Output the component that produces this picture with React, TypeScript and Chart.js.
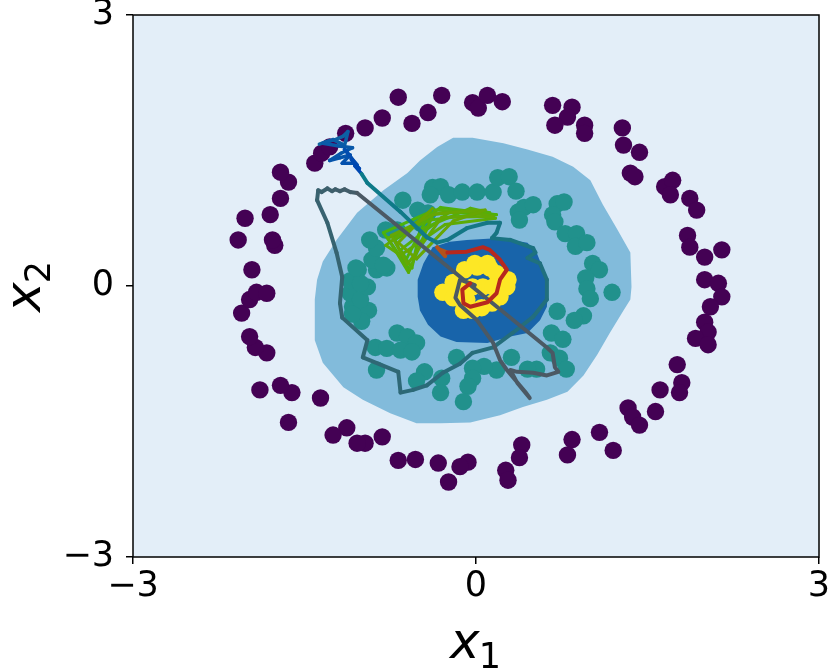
import React, { useEffect, useRef } from 'react';
import { Chart, registerables } from 'chart.js';

Chart.register(...registerables);

// ---- data ----
const axisTicks = [-3, 0, 3];
const xTitle = { main: 'x', sub: '1' };
const yTitle = { main: 'x', sub: '2' };

const outerRing: [number, number][] = [
  [-0.68, 2.09], [-0.30, 2.11], [-0.03, 2.03], [0.02, 1.97], [0.10, 2.11], [0.23, 2.04],
  [0.67, 2.00], [0.84, 1.98], [0.80, 1.87], [0.69, 1.78], [0.95, 1.78], [0.95, 1.69],
  [1.28, 1.75], [1.29, 1.56], [1.43, 1.48], [1.35, 1.25], [1.39, 1.21], [1.65, 1.10],
  [1.72, 1.17], [1.70, 1.01], [1.87, 0.97], [1.93, 0.84], [1.85, 0.56], [1.87, 0.43],
  [2.00, 0.32], [2.15, 0.40], [2.00, 0.07], [2.12, 0.03], [2.15, -0.12], [2.05, -0.23],
  [2.00, -0.40], [2.03, -0.51], [1.92, -0.58], [2.03, -0.65], [1.76, -0.87], [1.80, -1.07],
  [1.78, -1.18], [1.61, -1.15], [1.33, -1.35], [1.37, -1.45], [1.43, -1.54], [1.57, -1.39],
  [1.08, -1.62], [1.20, -1.82], [0.84, -1.70], [0.80, -1.87], [0.40, -1.76], [0.38, -1.90],
  [0.26, -2.04], [0.28, -2.15], [-0.07, -1.95], [-0.14, -2.00], [-0.24, -2.17], [-0.33, -1.96],
  [-0.53, -1.92], [-0.68, -1.93], [-0.82, -1.67], [-0.97, -1.74], [-1.04, -1.74], [-1.13, -1.57],
  [-1.25, -1.65], [-1.64, -1.51], [-1.36, -1.24], [-1.61, -1.18], [-1.71, -1.10], [-1.89, -1.15],
  [-1.83, -0.74], [-1.93, -0.68], [-1.98, -0.56], [-2.05, -0.30], [-1.98, -0.15], [-1.92, -0.07],
  [-1.83, -0.08], [-1.96, 0.18], [-1.76, 0.45], [-1.78, 0.51], [-2.08, 0.51], [-2.02, 0.75],
  [-1.80, 0.79], [-1.71, 0.97], [-1.64, 1.15], [-1.71, 1.26], [-1.41, 1.36], [-1.35, 1.47],
  [-1.28, 1.54], [-1.14, 1.69], [-0.97, 1.75], [-0.82, 1.86], [-0.56, 1.80], [-0.42, 1.92],
];

const middleRing: [number, number][] = [
  [-0.64, 0.95], [-0.38, 1.09], [-0.31, 1.10], [-0.40, 1.01], [-0.24, 1.01], [-0.12, 1.04],
  [0.01, 1.04], [0.15, 1.04], [0.19, 1.20], [0.29, 1.21], [0.35, 1.05], [0.37, 0.82],
  [0.42, 0.87], [0.50, 0.90], [0.38, 0.73], [0.71, 0.91], [0.77, 0.93], [0.67, 0.79],
  [0.69, 0.71], [0.78, 0.58], [0.88, 0.58], [0.87, 0.44], [0.97, 0.48], [1.02, 0.25],
  [1.08, 0.18], [0.96, 0.09], [0.97, -0.03], [1.00, -0.14], [1.19, -0.07], [0.94, -0.33],
  [0.86, -0.38], [0.71, -0.28], [0.66, -0.52], [0.76, -0.59], [0.65, -0.74], [0.73, -0.80],
  [0.79, -0.92], [0.53, -0.92], [0.45, -0.92], [0.31, -0.79], [0.18, -0.93], [0.07, -0.89],
  [-0.03, -0.91], [-0.03, -1.02], [-0.07, -1.11], [-0.11, -1.28], [-0.17, -0.79], [-0.30, -1.02],
  [-0.31, -1.18], [-0.45, -0.95], [-0.52, -1.05], [-0.69, -0.52], [-0.60, -0.56], [-0.52, -0.63],
  [-0.88, -0.68], [-0.78, -0.69], [-0.66, -0.71], [-0.56, -0.73], [-0.87, -0.93], [-1.08, -0.23],
  [-0.94, -0.27], [-1.00, -0.39], [-1.08, -0.31], [-1.10, -0.08], [-1.01, -0.15], [-0.95, -0.01],
  [-1.03, 0.18], [-1.10, 0.06], [-1.01, 0.03], [-0.87, 0.18], [-0.78, 0.20], [-0.91, 0.29],
  [-0.81, 0.23], [-0.87, 0.42], [-0.93, 0.51], [-0.79, 0.62], [-0.69, 0.62], [-0.51, 0.84],
  [-0.42, 0.81], [-0.49, 0.70], [-1.05, 0.20],
];

const innerCore: [number, number][] = [
  [0.01, 0.21], [0.12, 0.20], [-0.10, 0.18], [-0.20, 0.04], [-0.29, -0.07], [-0.20, -0.13],
  [-0.08, -0.15], [-0.03, -0.27], [0.05, -0.24], [0.14, -0.19], [0.21, -0.12], [0.27, -0.01],
  [0.28, 0.07], [0.18, 0.14], [0.06, -0.01], [-0.03, -0.01], [-0.14, -0.04], [0.15, -0.01],
  [-0.11, -0.27], [-0.01, 0.25], [0.10, 0.25],
];

// decision-region contours (filled levels)
const contourMid: [number, number][] = [
  [-0.20, 1.64], [-0.03, 1.64], [0.24, 1.58], [0.45, 1.51], [0.67, 1.43], [0.85, 1.32],
  [1.00, 1.17], [1.11, 0.90], [1.23, 0.64], [1.35, 0.37], [1.36, -0.01], [1.35, -0.15],
  [1.29, -0.27], [1.17, -0.52], [1.06, -0.76], [0.94, -0.99], [0.80, -1.17], [0.62, -1.26],
  [0.41, -1.34], [0.21, -1.43], [-0.05, -1.51], [-0.31, -1.52], [-0.52, -1.52], [-0.75, -1.41],
  [-0.99, -1.26], [-1.16, -1.12], [-1.34, -0.85], [-1.41, -0.60], [-1.41, -0.15], [-1.39, 0.07],
  [-1.34, 0.27], [-1.22, 0.51], [-1.04, 0.81], [-0.81, 1.06], [-0.60, 1.25], [-0.49, 1.39],
  [-0.34, 1.54],
];

const contourInner: [number, number][] = [
  [-0.38, 0.43], [-0.23, 0.49], [-0.08, 0.51], [0.21, 0.53], [0.45, 0.48], [0.53, 0.37],
  [0.59, 0.18], [0.63, -0.01], [0.62, -0.23], [0.56, -0.38], [0.45, -0.52], [0.30, -0.56],
  [0.10, -0.63], [-0.17, -0.62], [-0.31, -0.56], [-0.42, -0.43], [-0.49, -0.27], [-0.51, -0.12],
  [-0.51, 0.07], [-0.46, 0.25],
];

// trajectories
const pathBlue: [number, number][] = [
  [-1.37, 1.57], [-1.30, 1.60], [-1.23, 1.62], [-1.16, 1.66], [-1.12, 1.71], [-1.14, 1.60],
  [-1.15, 1.56], [-1.25, 1.62], [-1.34, 1.58], [-1.20, 1.55], [-1.08, 1.53], [-1.18, 1.47],
  [-1.28, 1.39], [-1.19, 1.42], [-1.10, 1.45], [-1.17, 1.36], [-1.06, 1.36], [-1.13, 1.49],
  [-1.15, 1.51], [-1.04, 1.34], [-1.09, 1.40], [-1.02, 1.30], [-1.06, 1.33], [-1.00, 1.24],
];

const pathTeal: [number, number][] = [
  [-1.00, 1.24], [-0.95, 1.14], [-0.66, 0.82], [-0.43, 0.54], [-0.34, 0.48], [-0.25, 0.51],
  [-0.08, 0.64], [0.10, 0.70], [0.21, 0.70], [0.18, 0.59], [0.14, 0.53], [0.30, 0.51],
  [0.50, 0.42], [0.52, 0.37], [0.45, 0.31], [0.56, 0.25], [0.62, 0.07], [0.62, -0.15],
  [0.50, -0.34], [0.32, -0.52], [0.15, -0.68], [-0.03, -0.74], [-0.14, -0.86], [-0.29, -0.96],
  [-0.43, -1.10], [-0.55, -1.15], [-0.66, -1.18], [-0.68, -0.95], [-0.99, -0.79], [-0.95, -0.60],
  [-1.17, -0.35], [-1.19, -0.19], [-1.17, 0.10], [-1.22, 0.37], [-1.30, 0.70], [-1.39, 0.95],
  [-1.38, 1.06], [-1.35, 1.04], [-1.30, 1.08], [-1.26, 1.05], [-1.23, 1.07], [-1.19, 1.05],
  [-1.15, 1.07], [-1.10, 1.04], [-1.04, 1.03],
];

const pathGray: [number, number][] = [
  [-1.04, 1.03], [-0.66, 0.64], [0.62, -0.68], [0.67, -0.74], [0.69, -0.90], [0.72, -0.95],
  [0.62, -0.99], [0.50, -0.96], [0.36, -0.95], [0.30, -0.93], [0.36, -1.07], [0.47, -1.24],
  [0.43, -1.17], [0.27, -0.93], [0.21, -0.82], [0.15, -0.63], [0.01, -0.38], [-0.14, -0.21],
  [-0.18, -0.13], [-0.14, 0.07], [-0.01, 0.01],
];

const pathGreen: [number, number][] = [
  [-0.58, 0.18], [-0.81, 0.59], [-0.40, 0.82], [-0.62, 0.27], [-0.71, 0.51], [-0.31, 0.87],
  [0.18, 0.79], [-0.23, 0.82], [-0.66, 0.40], [-0.56, 0.20], [-0.49, 0.62], [-0.05, 0.86],
  [0.12, 0.81], [-0.40, 0.73], [-0.77, 0.53], [-0.59, 0.15], [-0.36, 0.84], [0.03, 0.81],
  [0.17, 0.75], [-0.27, 0.68], [-0.66, 0.34], [-0.79, 0.45], [-0.44, 0.78], [-0.10, 0.83],
  [0.15, 0.77], [-0.30, 0.76], [-0.60, 0.24], [-0.74, 0.56], [-0.35, 0.80], [0.08, 0.84],
  [-0.20, 0.72], [-0.52, 0.30], [-0.68, 0.48], [-0.38, 0.86],
];

const pathOrange: [number, number][] = [
  [-0.34, 0.43], [-0.27, 0.33], [-0.31, 0.40], [-0.25, 0.37],
];

const pathRed: [number, number][] = [
  [-0.25, 0.37], [-0.08, 0.38], [0.06, 0.43], [0.12, 0.40], [0.21, 0.29], [0.27, 0.18],
  [0.21, 0.07], [0.18, -0.08], [0.10, -0.18], [-0.05, -0.23], [-0.11, -0.19], [-0.12, -0.04],
  [-0.05, 0.03],
];

// ---- styles ----
const FONT = '"DejaVu Sans", sans-serif';
const C_BG = '#e3eef8';
const C_MID = '#82bbdb';
const C_INNER = '#1864aa';
const TICK_SIZE = 35;
const TITLE_SIZE = 50;
const SUB_SIZE = 35;

const toXY = (arr: [number, number][]) => arr.map(([x, y]) => ({ x, y }));

function hexToRgb(h: string) {
  const n = parseInt(h.slice(1), 16);
  return [(n >> 16) & 255, (n >> 8) & 255, n & 255];
}
function mix(a: string, b: string, t: number) {
  const A = hexToRgb(a), B = hexToRgb(b);
  const c = A.map((v, i) => Math.round(v + (B[i] - v) * Math.min(1, Math.max(0, t))));
  return `rgb(${c[0]},${c[1]},${c[2]})`;
}
function gradSegment(a: string, b: string, n: number) {
  return { borderColor: (ctx: any) => mix(a, b, ctx.p0DataIndex / Math.max(1, n - 2)) };
}

function drawSubLabel(ctx: CanvasRenderingContext2D, main: string, sub: string, x: number, y: number, rotate: boolean) {
  ctx.save();
  ctx.translate(x, y);
  if (rotate) ctx.rotate(-Math.PI / 2);
  ctx.fillStyle = '#000';
  ctx.textBaseline = 'alphabetic';
  ctx.textAlign = 'left';
  ctx.font = `italic ${TITLE_SIZE}px ${FONT}`;
  const w1 = ctx.measureText(main).width;
  ctx.font = `${SUB_SIZE}px ${FONT}`;
  const w2 = ctx.measureText(sub).width;
  const x0 = -(w1 + w2) / 2;
  ctx.font = `italic ${TITLE_SIZE}px ${FONT}`;
  ctx.fillText(main, x0, 0);
  ctx.font = `${SUB_SIZE}px ${FONT}`;
  ctx.fillText(sub, x0 + w1 - 1, TITLE_SIZE * 0.2);
  ctx.restore();
}

const contourPlugin = {
  id: 'contourBg',
  beforeDatasetsDraw(chart: any) {
    const { ctx, chartArea: a, scales } = chart;
    const sx = scales.x, sy = scales.y;
    ctx.save();
    ctx.beginPath();
    ctx.rect(a.left, a.top, a.right - a.left, a.bottom - a.top);
    ctx.clip();
    ctx.fillStyle = C_BG;
    ctx.fillRect(a.left, a.top, a.right - a.left, a.bottom - a.top);
    const poly = (pts: [number, number][], color: string) => {
      ctx.beginPath();
      pts.forEach(([vx, vy], i) => {
        const px = sx.getPixelForValue(vx), py = sy.getPixelForValue(vy);
        if (i === 0) ctx.moveTo(px, py); else ctx.lineTo(px, py);
      });
      ctx.closePath();
      ctx.fillStyle = color;
      ctx.fill();
    };
    poly(contourMid, C_MID);
    poly(contourInner, C_INNER);
    ctx.restore();
  },
  afterDatasetsDraw(chart: any) {
    const { ctx, chartArea: a } = chart;
    ctx.save();
    ctx.strokeStyle = '#000';
    ctx.lineWidth = 1.5;
    ctx.strokeRect(a.left, a.top, a.right - a.left, a.bottom - a.top);
    ctx.restore();
  },
  afterDraw(chart: any) {
    const { ctx, chartArea: a } = chart;
    drawSubLabel(ctx, xTitle.main, xTitle.sub, (a.left + a.right) / 2, 658, false);
    drawSubLabel(ctx, yTitle.main, yTitle.sub, 40, (a.top + a.bottom) / 2, true);
  },
};

const tickFmt = (v: any) => {
  const n = Number(v);
  return n < 0 ? '\u2212' + Math.abs(n) : String(n);
};

export default function App() {
  const ref = useRef<HTMLCanvasElement | null>(null);

  useEffect(() => {
    if (!ref.current) return;
    const lineDs = (label: string, data: [number, number][], color: string, width: number, segment?: any) => ({
      type: 'scatter' as const,
      label,
      data: toXY(data),
      showLine: true,
      borderColor: color,
      borderWidth: width,
      borderJoinStyle: 'round',
      borderCapStyle: 'round',
      pointRadius: 0,
      tension: 0,
      order: 1,
      segment,
    });
    const ptDs = (label: string, data: [number, number][], color: string) => ({
      type: 'scatter' as const,
      label,
      data: toXY(data),
      backgroundColor: color,
      borderColor: color,
      borderWidth: 0,
      pointRadius: 8.7,
      order: 2,
    });

    const chart = new Chart(ref.current, {
      type: 'scatter',
      data: {
        datasets: [
          lineDs('red', pathRed, '#b7281e', 4),
          lineDs('orange', pathOrange, '#b3521b', 4),
          lineDs('gray', pathGray, '#4b5964', 4),
          lineDs('teal', pathTeal, '#1a707c', 4, gradSegment('#0d7b89', '#435c69', pathTeal.length)),
          lineDs('green', pathGreen, '#4fb00a', 3, gradSegment('#4ab30c', '#6aa502', pathGreen.length)),
          lineDs('blue', pathBlue, '#0a5ea6', 3.5, gradSegment('#0f66a2', '#0047b2', pathBlue.length)),
          ptDs('inner', innerCore, '#fde725'),
          ptDs('middle', middleRing, '#21918c'),
          ptDs('outer', outerRing, '#440154'),
        ] as any,
      },
      options: {
        animation: false,
        responsive: false,
        maintainAspectRatio: false,
        events: [],
        layout: { padding: { top: 15, right: 12, left: 0, bottom: 0 } },
        plugins: { legend: { display: false }, tooltip: { enabled: false } },
        scales: {
          x: {
            type: 'linear',
            min: -3,
            max: 3,
            afterBuildTicks: (s: any) => { s.ticks = axisTicks.map((v) => ({ value: v })); },
            afterFit: (s: any) => { s.height = 115; s.paddingLeft = 0; s.paddingRight = 0; },
            grid: { display: true, drawOnChartArea: false, drawTicks: true, tickLength: 7, color: '#000', lineWidth: 1.5 },
            border: { display: false },
            ticks: { callback: tickFmt, color: '#000', font: { family: FONT, size: TICK_SIZE }, padding: 2, maxRotation: 0 },
            title: { display: false },
          },
          y: {
            type: 'linear',
            min: -3,
            max: 3,
            afterBuildTicks: (s: any) => { s.ticks = axisTicks.map((v) => ({ value: v })); },
            afterFit: (s: any) => { s.width = 133; s.paddingTop = 0; s.paddingBottom = 0; },
            grid: { display: true, drawOnChartArea: false, drawTicks: true, tickLength: 7, color: '#000', lineWidth: 1.5 },
            border: { display: false },
            ticks: { callback: tickFmt, color: '#000', font: { family: FONT, size: TICK_SIZE }, padding: 12 },
            title: { display: false },
          },
        },
      } as any,
      plugins: [contourPlugin],
    });
    return () => chart.destroy();
  }, []);

  return (
    <div style={{ position: 'absolute', left: 0, top: 0, width: 831, height: 672, background: '#fff' }}>
      <canvas ref={ref} width={831} height={672} style={{ display: 'block', width: 831, height: 672 }} />
    </div>
  );
}
